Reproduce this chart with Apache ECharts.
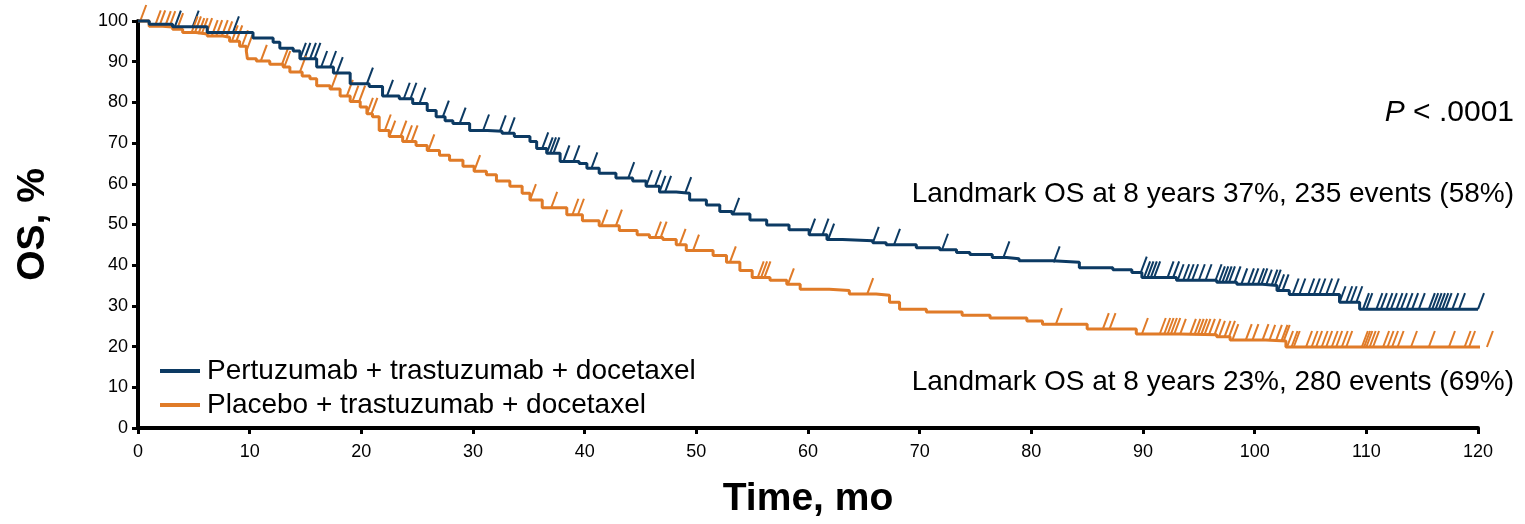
<!DOCTYPE html>
<html>
<head>
<meta charset="utf-8">
<script src="https://cdn.jsdelivr.net/npm/echarts@6/dist/echarts.min.js"></script>
<style>
  html, body { margin: 0; padding: 0; background: #fff; }
  #chart { width: 1525px; height: 524px; }
</style>
</head>
<body>
<div id="chart"></div>
<script>
// KM steps: [month, OS %], value holds until the next point
const pertuzumabCurve = [
  [0, 100], [1.0, 99.2], [3.1, 98.6], [6.2, 97.2], [10.3, 95.8], [12.1, 94.8], [12.7, 93.3],
  [13.9, 92.6], [14.5, 90.7], [16.0, 88.7], [17.5, 87.2], [19.0, 84.6], [20.7, 83.9],
  [21.9, 81.6], [23.4, 80.9], [24.6, 79.7], [25.9, 78.0], [26.7, 76.5], [27.5, 75.5],
  [28.2, 74.8], [29.7, 73.1], [31.3, 72.9], [32.6, 72.4], [33.7, 71.6], [35.1, 70.4],
  [35.7, 68.7], [36.6, 67.5], [37.8, 65.5], [39.5, 65.0], [40.2, 63.8], [41.3, 62.6],
  [42.8, 61.4], [44.3, 60.7], [45.5, 59.4], [46.7, 58.0], [48.2, 57.7], [49.4, 56.0],
  [50.9, 54.8], [52.1, 53.2], [53.2, 52.6], [54.8, 51.1], [56.3, 49.9], [58.3, 48.7],
  [60.1, 47.5], [61.7, 46.3], [63.1, 46.0], [65.8, 45.5], [67.0, 45.0], [69.7, 44.3],
  [71.8, 43.8], [73.3, 43.1], [74.5, 42.6], [76.5, 41.9], [77.8, 41.6], [78.9, 41.1],
  [81.9, 40.7], [84.3, 39.4], [87.3, 38.9], [89.0, 38.2], [89.9, 37.0], [93.0, 36.3],
  [96.6, 35.8], [98.4, 35.3], [100.7, 35.0], [102.0, 33.8], [103.1, 32.8], [107.6, 30.9],
  [109.4, 29.2], [120.0, 29.2]
]
const placeboCurve = [
  [0, 100], [1.0, 98.7], [2.2, 98.5], [3.1, 98.0], [4.0, 97.2], [5.2, 96.8], [6.2, 96.3],
  [7.6, 96.0], [8.2, 95.0], [9.1, 93.8], [9.7, 92.6], [9.8, 90.7], [10.6, 90.2], [11.8, 89.4],
  [13.0, 88.7], [13.6, 87.5], [14.7, 86.5], [15.4, 85.8], [16.0, 84.1], [17.2, 83.3],
  [18.1, 81.6], [19.0, 80.2], [19.9, 78.9], [20.5, 77.2], [21.0, 76.5], [21.6, 73.1],
  [22.5, 71.6], [23.7, 70.4], [24.9, 69.4], [25.9, 68.2], [27.0, 67.0], [27.9, 65.8],
  [29.1, 64.3], [30.1, 63.1], [31.2, 62.2], [32.1, 60.7], [33.3, 59.4], [34.4, 57.7],
  [35.1, 56.0], [36.2, 54.1], [38.4, 52.4], [39.8, 50.9], [41.3, 49.7], [43.1, 48.5],
  [44.7, 47.5], [45.8, 46.8], [47.0, 46.3], [48.2, 45.0], [49.1, 43.6], [51.5, 42.4],
  [52.7, 40.7], [53.9, 38.7], [55.0, 37.0], [56.6, 36.3], [58.1, 35.3], [59.3, 34.1],
  [61.9, 33.8], [63.7, 32.9], [66.1, 32.6], [67.3, 30.9], [68.2, 29.2], [70.6, 28.5],
  [73.8, 27.7], [76.3, 27.0], [79.6, 26.3], [81.0, 25.5], [85.0, 24.3], [89.4, 23.1],
  [93.3, 22.9], [96.6, 22.4], [97.8, 21.6], [101.0, 21.4], [102.8, 19.9], [120.8, 19.9]
]

// censoring times (months)
const pertuzumabCensored = [
  3.3, 4.9, 8.5, 14.5, 14.9, 15.4, 15.8, 16.4, 17.2, 17.8, 20.5, 22.3, 23.8, 24.4, 25.2,
  27.3, 28.8, 30.9, 32.4, 33.2, 36.2, 36.6, 36.9, 37.2, 38.1, 39.0, 40.6, 43.9, 45.5, 46.3,
  46.7, 47.2, 49.0, 53.3, 60.1, 61.3, 61.8, 65.8, 67.7, 72.0, 77.5, 82.0, 89.8, 90.1, 90.4,
  90.7, 91.0, 92.2, 92.7, 93.1, 93.6, 94.0, 94.4, 95.0, 95.6, 96.5, 96.8, 97.1, 97.4, 97.7,
  98.2, 98.8, 99.4, 99.8, 100.3, 100.6, 101.0, 101.5, 101.8, 102.1, 102.5, 103.4, 104.0,
  104.8, 105.3, 105.8, 106.4, 107.0, 107.6, 108.2, 108.6, 109.1, 109.7, 110.0, 110.9, 111.3,
  111.8, 112.2, 112.7, 113.1, 113.6, 114.1, 114.7, 115.6, 115.9, 116.2, 116.5, 116.8, 117.1,
  117.7, 118.3, 120.0
]
const placeboCensored = [
  0.2, 1.5, 1.9, 2.4, 2.8, 3.5, 4.8, 5.1, 5.4, 5.7, 6.1, 6.6, 7.0, 7.5, 7.9, 8.4, 8.8, 9.3,
  9.7, 11.0, 12.9, 13.1, 14.5, 17.3, 18.7, 19.2, 19.8, 20.5, 20.9, 22.1, 22.5, 23.5, 24.0,
  24.5, 26.0, 30.1, 35.1, 37.0, 38.9, 39.4, 41.5, 42.8, 46.3, 46.8, 48.5, 49.7, 53.0, 55.5,
  55.8, 56.1, 58.2, 65.3, 82.2, 86.4, 87.0, 89.9, 91.5, 91.9, 92.2, 92.5, 92.8, 93.3, 94.2,
  94.6, 94.9, 95.2, 95.5, 95.9, 96.4, 96.8, 97.3, 97.7, 98.0, 99.2, 99.8, 100.7, 101.3,
  101.9, 102.4, 102.6, 102.9, 103.3, 103.5, 104.6, 105.1, 105.5, 106.0, 106.4, 106.9, 107.3,
  107.8, 108.2, 109.6, 109.8, 110.0, 110.3, 110.6, 111.5, 111.9, 112.3, 112.8, 114.0, 115.6,
  117.4, 118.8, 119.2, 120.8
]

const seriesNames = ['Pertuzumab + trastuzumab + docetaxel', 'Placebo + trastuzumab + docetaxel']
const landmarkTexts = [
  'Landmark OS at 8 years 37%, 235 events (58%)',
  'Landmark OS at 8 years 23%, 280 events (69%)'
]

const BLUE = '#0c3a63'
const ORANGE = '#e07b28'
const FONT = "'Liberation Sans', Arial, sans-serif"

// curve value at time t (step lookup)
function survAt (curve, t) {
  let s = curve[0][1]
  for (const [ct, cs] of curve) {
    if (ct <= t) s = cs
    else break
  }
  return s
}

function censorSeries (name, times, curve, color) {
  return {
    name: name + ' censored',
    type: 'custom',
    clip: false,
    silent: true,
    z: 3,
    data: times.map(t => [t, survAt(curve, t)]),
    renderItem: function (params, api) {
      const p = api.coord([api.value(0), api.value(1)])
      return {
        type: 'line',
        shape: { x1: p[0], y1: p[1], x2: p[0] + 6, y2: p[1] - 16 },
        style: { stroke: color, lineWidth: 2 }
      }
    }
  }
}

const chart = echarts.init(document.getElementById('chart'))
chart.setOption({
  animation: false,
  textStyle: { fontFamily: FONT },
  grid: { left: 138, right: 47, top: 21, bottom: 93 },
  title: [
    {
      text: '{i|P} < .0001',
      right: 6,
      top: 93,
      textStyle: {
        fontFamily: FONT, fontSize: 30, fontWeight: 'normal', color: '#000',
        rich: { i: { fontFamily: FONT, fontSize: 30, fontStyle: 'italic', color: '#000' } }
      }
    },
    {
      text: landmarkTexts[0],
      right: 6,
      top: 175,
      textStyle: { fontFamily: FONT, fontSize: 28, fontWeight: 'normal', color: '#000' }
    },
    {
      text: landmarkTexts[1],
      right: 6,
      top: 363,
      textStyle: { fontFamily: FONT, fontSize: 28, fontWeight: 'normal', color: '#000' }
    }
  ],
  legend: {
    data: seriesNames,
    orient: 'vertical',
    left: 155,
    top: 352,
    icon: 'rect',
    itemWidth: 40,
    itemHeight: 4,
    itemGap: 6,
    textStyle: { fontFamily: FONT, fontSize: 28, color: '#000', padding: [0, 0, 0, 2] }
  },
  xAxis: {
    type: 'value',
    min: 0,
    max: 120,
    interval: 10,
    name: 'Time, mo',
    nameLocation: 'middle',
    nameGap: 52,
    nameTextStyle: { fontFamily: FONT, fontSize: 39, fontWeight: 'bold', color: '#000' },
    splitLine: { show: false },
    axisLine: { lineStyle: { color: '#000', width: 4 } },
    axisTick: { length: 6, lineStyle: { color: '#000', width: 3 } },
    axisLabel: { fontFamily: FONT, fontSize: 18, color: '#000', margin: 15 }
  },
  yAxis: {
    type: 'value',
    min: 0,
    max: 100,
    interval: 10,
    name: 'OS, %',
    nameLocation: 'middle',
    nameRotate: 90,
    nameGap: 85,
    nameTextStyle: { fontFamily: FONT, fontSize: 39, fontWeight: 'bold', color: '#000' },
    splitLine: { show: false },
    axisLine: { show: true, lineStyle: { color: '#000', width: 4 } },
    axisTick: { show: true, length: 6, lineStyle: { color: '#000', width: 3 } },
    axisLabel: { fontFamily: FONT, fontSize: 18, color: '#000', margin: 10 }
  },
  series: [
    {
      name: seriesNames[0],
      type: 'line',
      step: 'end',
      showSymbol: false,
      clip: false,
      color: BLUE,
      lineStyle: { color: BLUE, width: 3 },
      z: 4,
      data: pertuzumabCurve
    },
    {
      name: seriesNames[1],
      type: 'line',
      step: 'end',
      showSymbol: false,
      clip: false,
      color: ORANGE,
      lineStyle: { color: ORANGE, width: 3 },
      z: 3,
      data: placeboCurve
    },
    censorSeries(seriesNames[0], pertuzumabCensored, pertuzumabCurve, BLUE),
    censorSeries(seriesNames[1], placeboCensored, placeboCurve, ORANGE)
  ]
})
</script>
</body>
</html>
